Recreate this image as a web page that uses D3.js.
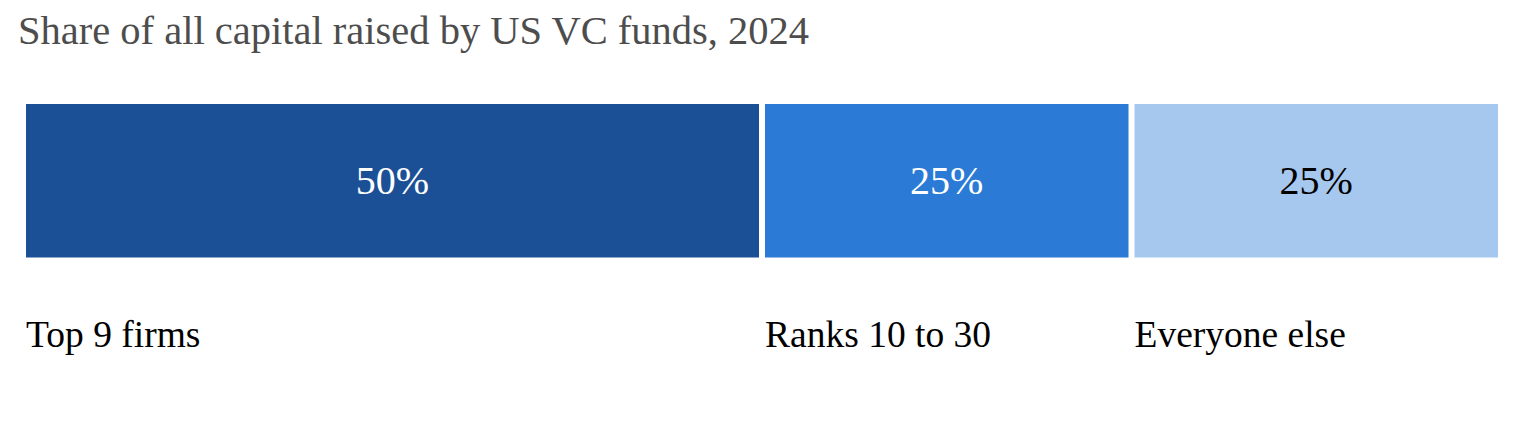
<!DOCTYPE html>
<html>
<head>
<meta charset="utf-8">
<script src="https://cdn.jsdelivr.net/npm/d3@7"></script>
<style>
  body { margin: 0; background: #fff; }
  text { font-family: "Liberation Serif", "DejaVu Serif", serif; }
</style>
</head>
<body>
<script>
// shares of 2024 US VC capital raised
var groups = ["Top 9 firms", "Ranks 10 to 30", "Everyone else"];
var shares = [0.50, 0.25, 0.25];
var valueLabels = ["50%", "25%", "25%"];
var fills = ["#1c5096", "#2a7ad6", "#a7c8ee"];
var labelFills = ["#ffffff", "#ffffff", "#000000"];

var width = 1520, height = 430,
    gap = 3;

var svg = d3.select("body").append("svg")
    .attr("width", width)
    .attr("height", height);

svg.append("text")
    .attr("x", 18)
    .attr("y", 44)
    .style("font-size", "40.5px")
    .style("fill", "#4d4d4d")
    .text("Share of all capital raised by US VC funds, 2024");

var x = d3.scaleLinear().domain([0, 1]).range([23, 1501]);

var starts = [];
var acc = 0;
shares.forEach(function(s) { starts.push(acc); acc += s; });

var seg = svg.selectAll(".seg")
    .data(groups)
  .enter().append("g")
    .attr("class", "seg");

seg.append("rect")
    .attr("x", function(d, i) { return x(starts[i]) + gap; })
    .attr("y", 104)
    .attr("width", function(d, i) { return x(starts[i] + shares[i]) - x(starts[i]) - 2 * gap; })
    .attr("height", 153.5)
    .style("fill", function(d, i) { return fills[i]; });

seg.append("text")
    .attr("x", function(d, i) { return x(starts[i] + shares[i] / 2); })
    .attr("y", 194)
    .attr("text-anchor", "middle")
    .style("font-size", "40px")
    .style("fill", function(d, i) { return labelFills[i]; })
    .text(function(d, i) { return valueLabels[i]; });

seg.append("text")
    .attr("x", function(d, i) { return x(starts[i]) + gap; })
    .attr("y", 347)
    .style("font-size", "37.5px")
    .style("fill", "#000")
    .text(function(d) { return d; });
</script>
</body>
</html>
